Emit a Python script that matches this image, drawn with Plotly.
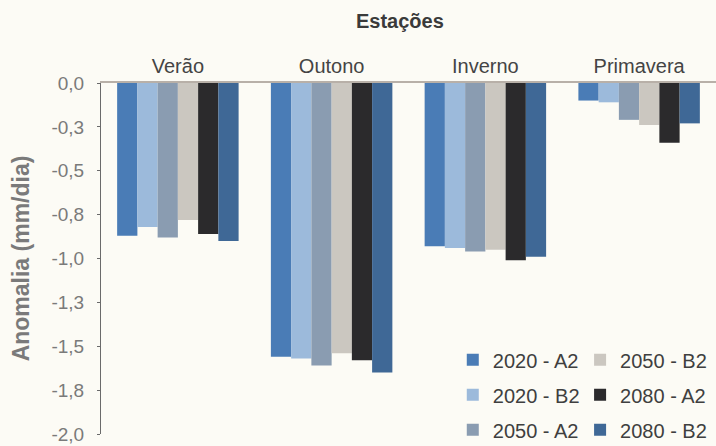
import plotly.graph_objects as go

# Seasonal precipitation anomaly (mm/day) per scenario
estacoes = ["Verão", "Outono", "Inverno", "Primavera"]
cenarios = ["2020 - A2", "2020 - B2", "2050 - A2", "2050 - B2", "2080 - A2", "2080 - B2"]

a2_2020 = [-0.87, -1.56, -0.93, -0.10]
b2_2020 = [-0.82, -1.57, -0.94, -0.11]
a2_2050 = [-0.88, -1.61, -0.96, -0.21]
b2_2050 = [-0.78, -1.54, -0.95, -0.24]
a2_2080 = [-0.86, -1.58, -1.01, -0.34]
b2_2080 = [-0.90, -1.65, -0.99, -0.23]

series = [a2_2020, b2_2020, a2_2050, b2_2050, a2_2080, b2_2080]
cores = ["#4a7cb6", "#9cbadb", "#8a9cb1", "#cbc7c0", "#2b2a2c", "#3f6896"]
legendas = ["legend", "legend", "legend", "legend2", "legend2", "legend2"]

tick_vals = [0, -0.25, -0.5, -0.75, -1.0, -1.25, -1.5, -1.75, -2.0]
tick_text = ["0,0", "-0,3", "-0,5", "-0,8", "-1,0", "-1,3", "-1,5", "-1,8", "-2,0"]

FONT = "Arial, Liberation Sans, sans-serif"

fig = go.Figure()
for nome, vals, cor, leg in zip(cenarios, series, cores, legendas):
    fig.add_trace(go.Bar(
        x=estacoes, y=vals, name=nome, legendgroup=nome, legend=leg,
        marker=dict(color=cor, line=dict(width=0)),
    ))

legend_style = dict(
    orientation="v", xref="paper", yref="paper", yanchor="middle", xanchor="left",
    y=0.112, bgcolor="rgba(0,0,0,0)", tracegroupgap=6,
    font=dict(family=FONT, size=20, color="#3f3f3f"),
)

fig.update_layout(
    width=716, height=446,
    margin=dict(l=101, r=0, t=83, b=12, autoexpand=False),
    paper_bgcolor="#fcfbf5", plot_bgcolor="#fcfbf5",
    barmode="group", bargap=0.21, bargroupgap=0,
    title=dict(text="<b>Estações</b>", x=0.486, xref="paper", xanchor="center",
               y=0.953, yref="container", yanchor="middle",
               font=dict(family=FONT, size=20, color="#3a3a3a")),
    legend=dict(x=0.572, **legend_style),
    legend2=dict(x=0.779, **legend_style),
    showlegend=True,
)

fig.update_xaxes(
    side="top", showline=True, linecolor="#b8b0a8", linewidth=1.5,
    ticks="", showgrid=False, zeroline=False, ticklabelstandoff=0,
    tickfont=dict(family=FONT, size=20, color="#444444"),
)
fig.update_yaxes(
    range=[-2, 0], tickvals=tick_vals, ticktext=tick_text,
    showline=True, linecolor="#6a6a6a", linewidth=1, ticks="outside", ticklen=3,
    tickcolor="#6a6a6a", showgrid=False, zeroline=False, ticklabelstandoff=9,
    ticklabeloverflow="allow",
    tickfont=dict(family=FONT, size=19, color="#7a7a7a"),
    title=dict(text="<b>Anomalia (mm/dia)</b>", standoff=15,
               font=dict(family=FONT, size=23, color="#7a7a7a")),
)

fig.write_html("out.html")
